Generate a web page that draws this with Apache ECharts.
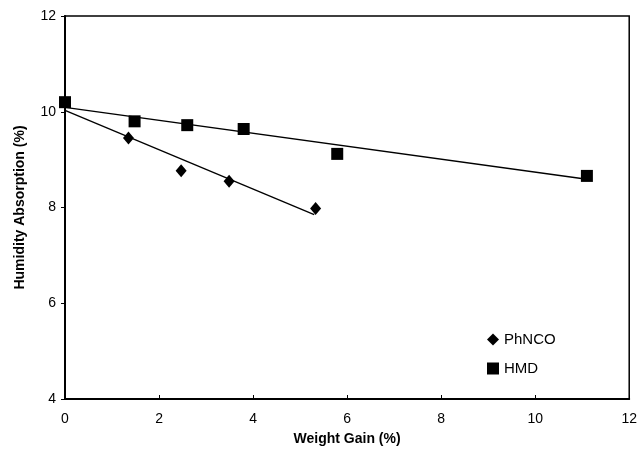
<!DOCTYPE html>
<html>
<head>
<meta charset="utf-8">
<script src="https://cdn.jsdelivr.net/npm/echarts@6/dist/echarts.min.js"></script>
<style>
  html, body { margin: 0; padding: 0; background: #fff; }
  #chart { width: 640px; height: 452px; }
</style>
</head>
<body>
<div id="chart"></div>
<script>
// values
const phncoX = [1.35, 2.47, 3.49, 5.33];
const phncoY = [9.45, 8.77, 8.55, 7.98];
const hmdX = [0, 1.48, 2.6, 3.8, 5.79, 11.1];
const hmdY = [10.2, 9.8, 9.72, 9.64, 9.12, 8.66];
// trend line end points
const phncoFitX = [0, 5.3];
const phncoFitY = [10.03, 7.85];
const hmdFitX = [0, 11.1];
const hmdFitY = [10.09, 8.59];

const xTicks = [0, 2, 4, 6, 8, 10, 12];
const yTicks = [4, 6, 8, 10, 12];

const pairs = (xs, ys) => xs.map((x, i) => [x, ys[i]]);

const font = 'Liberation Sans, Arial, sans-serif';

const chart = echarts.init(document.getElementById('chart'));
chart.setOption({
  animation: false,
  backgroundColor: '#fff',
  textStyle: { fontFamily: font },
  grid: {
    left: 65, right: 8, top: 16, bottom: 53,
    show: true, borderColor: '#000', borderWidth: 1.5
  },
  legend: {
    orient: 'vertical',
    left: 482, top: 327,
    itemWidth: 12, itemHeight: 12, itemGap: 14,
    textStyle: { fontSize: 15, color: '#000', fontFamily: font },
    data: [
      { name: 'PhNCO', icon: 'diamond' },
      { name: 'HMD', icon: 'rect' }
    ]
  },
  xAxis: {
    type: 'value',
    min: xTicks[0], max: xTicks[xTicks.length - 1], interval: 2,
    name: 'Weight Gain (%)',
    nameLocation: 'middle', nameGap: 33,
    nameTextStyle: { fontSize: 14, fontWeight: 'bold', color: '#000', fontFamily: font },
    axisLine: { lineStyle: { color: '#000', width: 2 } },
    axisTick: { show: true, inside: true, length: 4, lineStyle: { color: '#000' } },
    axisLabel: { fontSize: 14, color: '#000', margin: 13 },
    splitLine: { show: false }
  },
  yAxis: {
    type: 'value',
    min: yTicks[0], max: yTicks[yTicks.length - 1], interval: 2,
    name: 'Humidity Absorption (%)',
    nameLocation: 'middle', nameGap: 38,
    nameTextStyle: { fontSize: 14, fontWeight: 'bold', color: '#000', fontFamily: font },
    axisLine: { lineStyle: { color: '#000', width: 2 } },
    axisTick: { show: true, length: 4, lineStyle: { color: '#000' } },
    axisLabel: { fontSize: 14, color: '#000', margin: 9 },
    splitLine: { show: false }
  },
  series: [
    {
      name: 'PhNCO fit', type: 'line', data: pairs(phncoFitX, phncoFitY),
      showSymbol: false, silent: true,
      lineStyle: { color: '#000', width: 1.3 }
    },
    {
      name: 'HMD fit', type: 'line', data: pairs(hmdFitX, hmdFitY),
      showSymbol: false, silent: true,
      lineStyle: { color: '#000', width: 1.3 }
    },
    {
      name: 'PhNCO', type: 'scatter', data: pairs(phncoX, phncoY),
      symbol: 'diamond', symbolSize: [11, 13],
      itemStyle: { color: '#000', opacity: 1 }
    },
    {
      name: 'HMD', type: 'scatter', data: pairs(hmdX, hmdY),
      symbol: 'rect', symbolSize: 12,
      itemStyle: { color: '#000', opacity: 1 }
    }
  ]
});
</script>
</body>
</html>
